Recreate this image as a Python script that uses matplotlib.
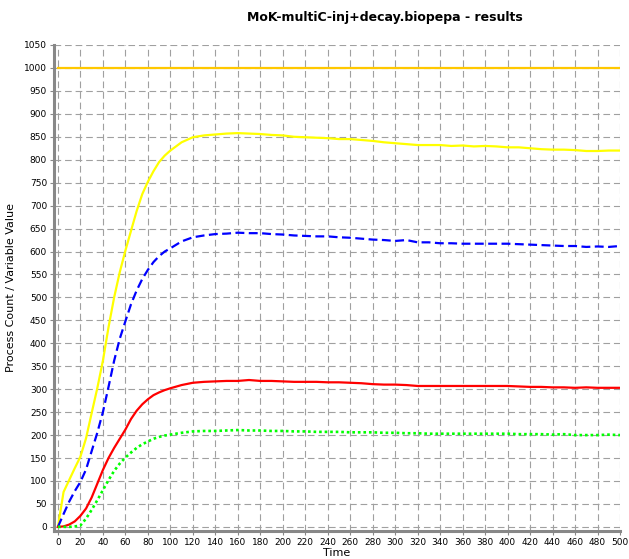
import matplotlib

matplotlib.use("Agg")
import matplotlib.pyplot as plt

time = [0, 5, 10, 15, 20, 25, 30, 35, 40, 45, 50, 55, 60, 65, 70, 75, 80, 85, 90, 95,
        100, 110, 120, 130, 140, 150, 160, 170, 180, 190, 200, 210, 220, 230, 240, 250,
        260, 270, 280, 290, 300, 310, 320, 330, 340, 350, 360, 370, 380, 390, 400, 410,
        420, 430, 440, 450, 460, 470, 480, 490, 500]

total = [1000] * len(time)

yellow = [0, 76, 102, 128, 153, 193, 248, 302, 362, 435, 500, 555, 602, 645, 688, 725,
          752, 775, 795, 809, 820, 838, 849, 853, 855, 857, 858, 857, 856, 854, 853, 850,
          849, 848, 847, 845, 845, 843, 841, 838, 836, 834, 832, 832, 832, 830, 831, 829,
          830, 829, 827, 827, 825, 823, 822, 822, 821, 819, 819, 820, 820]

blue = [0, 28, 55, 78, 98, 125, 165, 205, 250, 305, 362, 410, 448, 485, 515, 540,
        560, 577, 590, 600, 607, 622, 631, 635, 638, 639, 641, 640, 640, 638, 637, 635,
        634, 633, 633, 631, 630, 628, 626, 625, 623, 625, 620, 620, 618, 618, 617, 617,
        617, 617, 617, 616, 615, 614, 613, 612, 612, 610, 611, 610, 612]

red = [0, 1, 5, 12, 24, 40, 64, 94, 124, 150, 172, 192, 212, 235, 253, 267,
       278, 287, 293, 298, 302, 309, 314, 316, 317, 318, 318, 320, 318, 318, 317, 316,
       316, 316, 315, 315, 314, 313, 311, 310, 310, 309, 307, 307, 307, 307, 307, 307,
       307, 307, 307, 306, 305, 305, 304, 304, 303, 304, 303, 303, 303]

green = [0, 0, 0, 1, 3, 18, 37, 58, 80, 102, 122, 138, 151, 162, 172, 180,
         186, 192, 196, 199, 201, 205, 208, 209, 209, 210, 211, 210, 210, 209, 209, 208,
         208, 207, 207, 207, 206, 206, 206, 205, 205, 204, 204, 203, 203, 203, 203, 203,
         203, 203, 203, 202, 202, 202, 201, 202, 200, 200, 200, 201, 200]

x_ticks = list(range(0, 501, 20))
y_ticks = list(range(0, 1051, 50))

fig = plt.figure(figsize=(6.29, 5.59), dpi=100)
ax = fig.add_axes([54 / 629, 1 - 531 / 559, (620 - 54) / 629, (531 - 45) / 559])

ax.plot(time, total, color="#ffc800", linewidth=1.6)
ax.plot(time, yellow, color="#ffff00", linewidth=1.6)
ax.plot(time, blue, color="#0000ff", linewidth=1.6, linestyle=(0, (4, 2)))
ax.plot(time, red, color="#ff0000", linewidth=1.6)
ax.plot(time, green, color="#00ff00", linewidth=1.9, linestyle=(0, (1, 1.1)))

ax.set_xlim(-3.5, 500)
ax.set_ylim(-9, 1050)
ax.set_xticks(x_ticks)
ax.set_yticks(y_ticks)
ax.tick_params(labelsize=6.5, length=3, color="#888888", width=0.8, pad=2)
ax.grid(True, color="#a0a0a0", linestyle=(0, (6, 3.5)), linewidth=0.8)
ax.set_axisbelow(True)

for side in ("top", "right"):
    ax.spines[side].set_visible(False)
for side in ("left", "bottom"):
    ax.spines[side].set_color("#888888")
    ax.spines[side].set_linewidth(2.2)

ax.set_xlabel("Time", fontsize=8, labelpad=1)
ax.set_ylabel("Process Count / Variable Value", fontsize=8, labelpad=6)
fig.text(385 / 629, 1 - 18 / 559, "MoK-multiC-inj+decay.biopepa - results",
         ha="center", va="center", fontsize=9, fontweight="bold")

fig.savefig("out.png", dpi=100)
plt.close(fig)
